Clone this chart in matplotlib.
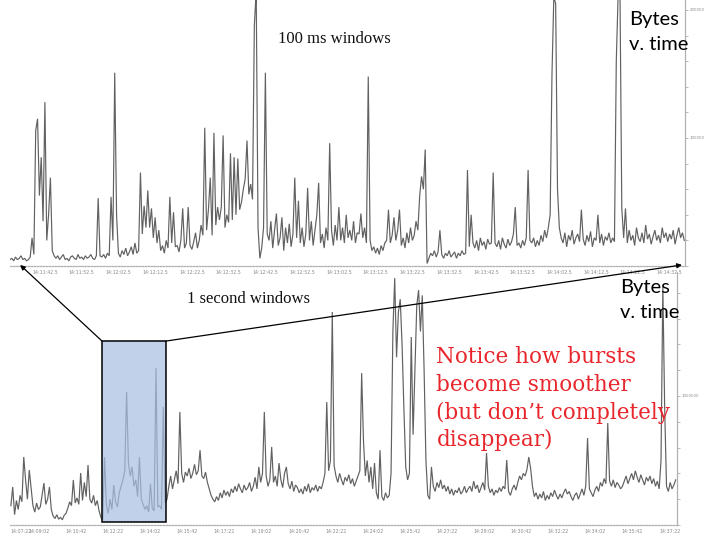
import numpy as np
import matplotlib
matplotlib.use("Agg")
import matplotlib.pyplot as plt
from matplotlib.patches import Rectangle, ConnectionPatch
from matplotlib.ticker import FixedLocator, MultipleLocator

# ---------------- data ----------------
# Upper chart: bytes per 100 ms window (shown down-sampled), in kB
top_start = "14:11:33"
top_step_s = 0.5
top_kbytes = [
    5, 6, 4, 7, 5, 6, 8, 5, 6, 4,
    5, 7, 22, 9, 106, 115, 55, 85, 35, 128,
    20, 40, 69, 12, 8, 6, 8, 5, 7, 9,
    5, 6, 4, 7, 8, 6, 5, 9, 6, 7,
    5, 8, 6, 7, 9, 6, 5, 8, 53, 8,
    7, 9, 6, 10, 8, 54, 20, 151, 40, 10,
    7, 12, 9, 14, 8, 11, 15, 9, 18, 10,
    12, 73, 25, 47, 30, 59, 30, 45, 22, 38,
    18, 28, 12, 16, 10, 20, 14, 54, 18, 42,
    15, 16, 11, 20, 45, 14, 18, 46, 16, 13,
    19, 26, 14, 20, 32, 24, 108, 28, 44, 69,
    24, 104, 32, 46, 36, 46, 102, 30, 40, 34,
    88, 36, 85, 40, 84, 44, 50, 60, 68, 98,
    56, 64, 52, 188, 215, 30, 6, 14, 30, 151,
    25, 20, 35, 14, 28, 41, 16, 22, 38, 12,
    30, 18, 33, 15, 25, 69, 22, 51, 18, 30,
    15, 25, 61, 20, 35, 16, 28, 40, 65, 18,
    25, 14, 30, 20, 96, 28, 16, 32, 20, 46,
    20, 30, 18, 40, 22, 28, 20, 35, 18, 26,
    25, 41, 22, 30, 18, 148, 20, 12, 15, 10,
    14, 9, 16, 12, 18, 20, 44, 18, 24, 38,
    20, 28, 44, 16, 22, 14, 26, 18, 30, 20,
    24, 35, 28, 55, 70, 60, 91, 2, 6, 10,
    8, 12, 7, 11, 28, 9, 6, 10, 8, 12,
    7, 9, 11, 6, 10, 8, 12, 9, 10, 75,
    15, 40, 18, 14, 20, 12, 22, 16, 19, 13,
    21, 17, 18, 73, 18, 15, 20, 13, 22, 17,
    14, 21, 16, 19, 25, 46, 16, 18, 14, 20,
    16, 22, 75, 20, 18, 22, 15, 20, 16, 24,
    19, 28, 22, 30, 40, 150, 210, 205, 60, 30,
    22, 18, 26, 15, 24, 20, 28, 17, 22, 25,
    19, 44, 21, 16, 24, 19, 27, 15, 22, 20,
    40, 18, 25, 16, 23, 20, 26, 18, 22, 19,
    160, 212, 215, 45, 22, 45, 18, 28, 20, 24,
    16, 30, 22, 19, 26, 18, 32, 21, 25, 17,
    23, 28, 20, 24, 18, 30, 22, 26, 19, 25,
    21, 28, 17, 24, 30, 22, 26, 20,
]
top_tick_labels = [
    "14:11:42.5", "14:11:52.5", "14:12:02.5", "14:12:12.5", "14:12:22.5",
    "14:12:32.5", "14:12:42.5", "14:12:52.5", "14:13:02.5", "14:13:12.5",
    "14:13:22.5", "14:13:32.5", "14:13:42.5", "14:13:52.5", "14:14:02.5",
    "14:14:12.5", "14:14:22.5", "14:14:32.5",
]
top_y_ticks = [100, 200]
top_y_labels = ["100000", "200000"]

# Lower chart: bytes per 1 s window (shown down-sampled), in kB
bottom_start = "14:07:46.5"
bottom_step_s = 4.95
bottom_kbytes = [
    150, 295, 80, 190, 120, 230, 180, 527, 350, 200,
    426, 290, 150, 100, 170, 120, 140, 230, 325, 160,
    200, 295, 120, 70, 50, 80, 45, 60, 40, 75,
    90, 130, 180, 150, 349, 170, 210, 160, 403, 190,
    330, 220, 465, 200, 170, 230, 150, 190, 110, 60,
    40, 527, 150, 90, 200, 120, 310, 180, 140, 250,
    300, 350, 420, 1031, 480, 380, 450, 300, 350, 220,
    527, 200, 160, 120, 150, 100, 320, 130, 110, 1217,
    140, 150, 120, 915, 170, 200, 300, 380, 280, 350,
    420, 320, 876, 400, 330, 410, 380, 440, 360, 400,
    470, 390, 420, 580, 380, 360, 410, 330, 280, 230,
    200, 180, 220, 190, 250, 210, 270, 230, 260, 220,
    280, 250, 300, 260, 320, 280, 250, 310, 270, 290,
    330, 260, 300, 370, 280, 450, 330, 400, 876, 380,
    300, 350, 605, 330, 380, 300, 480, 350, 290, 400,
    450, 320, 280, 340, 260, 310, 290, 250, 280, 240,
    300, 260, 320, 250, 290, 270, 310, 260, 300, 280,
    330, 400, 953, 420, 500, 1651, 460, 380, 330, 400,
    350, 310, 370, 340, 390, 320, 360, 300, 340, 380,
    420, 1178, 650, 380, 500, 330, 450, 280, 480, 250,
    200, 580, 220, 190, 250, 210, 230, 400, 1500, 1914,
    1300, 1650, 1750, 1400, 900, 450, 350, 400, 1457, 700,
    1200, 1700, 1821, 1500, 1780, 1200, 500, 230, 200, 450,
    300, 260, 330, 290, 350, 280, 310, 260, 300, 240,
    280, 230, 270, 250, 290, 240, 260, 300, 250, 280,
    300, 260, 340, 280, 310, 250, 290, 330, 270, 558,
    300, 250, 280, 230, 270, 250, 290, 260, 300, 280,
    504, 260, 230, 280, 310, 270, 330, 380, 350, 400,
    380, 430, 527, 440, 300, 220, 250, 200, 240, 210,
    260, 190, 230, 200, 250, 220, 270, 230, 200, 240,
    210, 250, 280, 240, 260, 220, 190, 230, 250, 200,
    240, 280, 230, 300, 674, 280, 250, 220, 270, 300,
    260, 330, 300, 360, 320, 790, 340, 300, 350, 290,
    330, 310, 280, 300, 340, 380, 320, 360, 400, 350,
    420, 370, 330, 390, 350, 310, 370, 340, 380, 320,
    360, 300, 340, 280, 500, 1845, 900, 300, 260, 330,
    280, 310, 350,
]
bottom_tick_labels = [
    "14:07:22", "14:09:02", "14:10:42", "14:12:22", "14:14:02", "14:15:42",
    "14:17:22", "14:19:02", "14:20:42", "14:22:22", "14:24:02", "14:25:42",
    "14:27:22", "14:29:02", "14:30:42", "14:32:22", "14:34:02", "14:35:42",
    "14:37:22",
]
bottom_y_ticks = [1000]
bottom_y_labels = ["1000000"]
zoom_window = ("14:11:52", "14:14:45")
zoom_kbytes = (23, 1426)


def hms(s):
    h, m, sec = s.split(":")
    return int(h) * 3600 + int(m) * 60 + float(sec)


W, H = 704, 534
fig = plt.figure(figsize=(W / 100, H / 100), dpi=100)
fig.patch.set_facecolor("white")


def px_axes(l, t, r, b):
    return fig.add_axes([l / W, 1 - b / H, (r - l) / W, (b - t) / H])


LINE = "#454545"
AXC = "#b0b0b0"
TICKC = "#8a8a8a"


def style_axis(ax, yt, yl, yminor):
    ax.patch.set_alpha(0)
    for s in ("top", "left"):
        ax.spines[s].set_visible(False)
    ax.spines["right"].set_color(AXC)
    ax.spines["right"].set_linewidth(0.9)
    ax.spines["bottom"].set_color(AXC)
    ax.spines["bottom"].set_linewidth(0.9)
    ax.spines["bottom"].set_linestyle((0, (1.2, 1.2)))
    ax.yaxis.tick_right()
    ax.yaxis.set_major_locator(FixedLocator(yt))
    ax.set_yticklabels(yl)
    ax.yaxis.set_minor_locator(MultipleLocator(yminor))
    ax.tick_params(axis="y", which="both", direction="out", length=2.2,
                   width=0.6, color=AXC, labelsize=2.8, labelcolor=TICKC, pad=1)
    ax.tick_params(axis="x", which="both", length=0, labelsize=3.4,
                   labelcolor=TICKC, pad=3)


# ---- upper chart ----
ax1 = px_axes(10, 0, 685, 266)
t_top = hms(top_start) + top_step_s * np.arange(len(top_kbytes))
ax1.plot(t_top, top_kbytes, color=LINE, lw=0.85, alpha=0.85, solid_joinstyle="miter")
ax1.set_xlim(t_top[0], t_top[-1] + 0.2)
ax1.set_ylim(0, 207.8)
style_axis(ax1, top_y_ticks, top_y_labels, 20)
ax1.set_xticks([hms(l) for l in top_tick_labels])
ax1.set_xticklabels(top_tick_labels)

# ---- lower chart ----
ax2 = px_axes(10, 272, 677, 525)
t_bot = hms(bottom_start) + bottom_step_s * np.arange(len(bottom_kbytes))
ax2.plot(t_bot, bottom_kbytes, color=LINE, lw=0.85, alpha=0.85, solid_joinstyle="miter")
x0, x1 = t_bot[0] - 2.4, t_bot[-1] + 3.5
ax2.set_xlim(x0, x1)
ax2.set_ylim(0, 1961)
style_axis(ax2, bottom_y_ticks, bottom_y_labels, 200)
bt = [max(hms(l), x0) for l in bottom_tick_labels]
ax2.set_xticks(bt)
ax2.set_xticklabels(bottom_tick_labels)
ax2.get_xticklabels()[0].set_horizontalalignment("left")

# zoom window rectangle on the lower chart
zx0, zx1 = hms(zoom_window[0]), hms(zoom_window[1])
rect = Rectangle((zx0, zoom_kbytes[0]), zx1 - zx0, zoom_kbytes[1] - zoom_kbytes[0],
                 facecolor="#a9c0e3", alpha=0.72, edgecolor="none", zorder=3)
ax2.add_patch(rect)
rect_edge = Rectangle((zx0, zoom_kbytes[0]), zx1 - zx0, zoom_kbytes[1] - zoom_kbytes[0],
                      facecolor="none", edgecolor="black", lw=1.1, zorder=4)
ax2.add_patch(rect_edge)

for xa, xb in ((zx0, 0.015), (zx1, 0.9955)):
    con = ConnectionPatch(xyA=(xa, zoom_kbytes[1]), coordsA=ax2.transData,
                          xyB=(xb, 0.004), coordsB=ax1.transAxes,
                          arrowstyle="-|>", mutation_scale=7, lw=0.9,
                          color="black", zorder=5)
    fig.add_artist(con)

# ---- texts ----
SERIF = ["Liberation Serif", "DejaVu Serif"]
SANS = ["Lato", "DejaVu Sans"]


def ftext(x, y, s, **kw):
    fig.text(x / W, 1 - y / H, s, va="baseline", ha="left", **kw)


ftext(278, 43, "100 ms windows", family=SERIF, fontsize=12, color="#111111")
ftext(187, 303, "1 second windows", family=SERIF, fontsize=12, color="#111111")
for (bx, by) in ((629, 25), (620, 293)):
    ftext(bx, by, "Bytes", family=SANS, fontsize=14.5, color="black")
    ftext(bx, by + 25, "v. time", family=SANS, fontsize=14.5, color="black")

RED = "#e8262c"
red_lines = ["Notice how bursts", "become smoother",
             "(but don\u2019t completely", "disappear)"]
for line, yb in zip(red_lines, (362.7, 390.7, 419, 446)):
    ftext(436.5, yb, line, family=["DejaVu Serif"], fontsize=15.5, color=RED)

fig.savefig("out.png", dpi=100, facecolor="white")
